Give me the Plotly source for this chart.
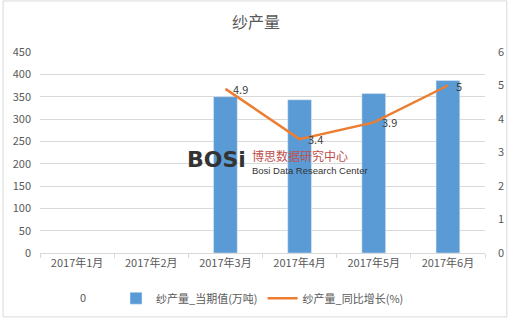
import plotly.graph_objects as go

categories = ["2017年1月", "2017年2月", "2017年3月", "2017年4月", "2017年5月", "2017年6月"]
output_values = [None, None, 350, 343, 357, 386]
growth_values = [None, None, 4.9, 3.4, 3.9, 5.0]
growth_labels = ["", "", "4.9", "3.4", "3.9", "5"]
left_ticks = [0, 50, 100, 150, 200, 250, 300, 350, 400, 450]
right_ticks = [0, 1, 2, 3, 4, 5, 6]

FONT = "Noto Sans CJK SC, Microsoft YaHei, sans-serif"
GRAY = "#595959"

fig = go.Figure()
fig.add_trace(go.Bar(
    x=categories, y=output_values, name="纱产量_当期值(万吨)",
    marker=dict(color="#5b9bd5"), width=0.32, yaxis="y",
))
fig.add_trace(go.Scatter(
    x=categories, y=growth_values, name="纱产量_同比增长(%)",
    mode="lines",
    line=dict(color="#ed7d31", width=2.5), yaxis="y2", connectgaps=False,
))

for c, v, t in zip(categories, growth_values, growth_labels):
    if v is None:
        continue
    fig.add_annotation(x=c, y=v, xref="x", yref="y2", text=t, showarrow=False,
                       xanchor="left", yanchor="middle", xshift=6, yshift=0,
                       font=dict(size=11, color="#404040", family=FONT))

fig.update_layout(
    width=512, height=319,
    margin=dict(l=40, r=27, t=52, b=66, autoexpand=False),
    paper_bgcolor="white", plot_bgcolor="white",
    font=dict(family=FONT, size=11, color=GRAY),
    title=dict(text="纱产量", x=0.5, xanchor="center", y=0.93, yanchor="middle",
               font=dict(size=16, color=GRAY, family=FONT)),
    xaxis=dict(type="category", showgrid=False, showline=True, linecolor="#d9d9d9",
               ticks="outside", ticklen=4, tickcolor="#d9d9d9", tickson="boundaries",
               tickfont=dict(size=11, color=GRAY)),
    yaxis=dict(range=[0, 450], tickvals=left_ticks, showgrid=True, gridcolor="#d9d9d9",
               zeroline=False, showline=False, tickfont=dict(size=11, color=GRAY),
               ticklabelstandoff=8),
    yaxis2=dict(range=[0, 6], tickvals=right_ticks, overlaying="y", side="right",
                showgrid=False, zeroline=False, showline=False,
                tickfont=dict(size=11, color=GRAY), ticklabelstandoff=12),
    legend=dict(orientation="h", x=0.5, xanchor="center", yref="container", y=0.065,
                yanchor="middle", font=dict(size=11, color=GRAY)),
    showlegend=True,
)

# outer border
fig.add_shape(type="rect", xref="paper", yref="paper", x0=-0.083, x1=1.049, y0=-0.318, y1=1.254,
              line=dict(color="#d9d9d9", width=1))

# stray label and watermark
fig.add_annotation(text="0", xref="paper", yref="paper", x=0.085, y=-0.269, showarrow=False,
                   font=dict(size=11, color=GRAY))
fig.add_annotation(text="<b>BOSi</b>", xref="paper", yref="paper", x=0.468, y=0.463, showarrow=False,
                   font=dict(size=22, color="#333333", family="DejaVu Sans"), xanchor="right")
fig.add_annotation(text="博思数据研究中心", xref="paper", yref="paper", x=0.472, y=0.485, showarrow=False,
                   font=dict(size=12, color="#c0504d"), xanchor="left")
fig.add_annotation(text="Bosi Data Research Center", xref="paper", yref="paper", x=0.472, y=0.41,
                   showarrow=False, font=dict(size=9.5, color="#333333", family="Liberation Sans Narrow, Liberation Sans"),
                   xanchor="left")

fig.write_html("out.html")
